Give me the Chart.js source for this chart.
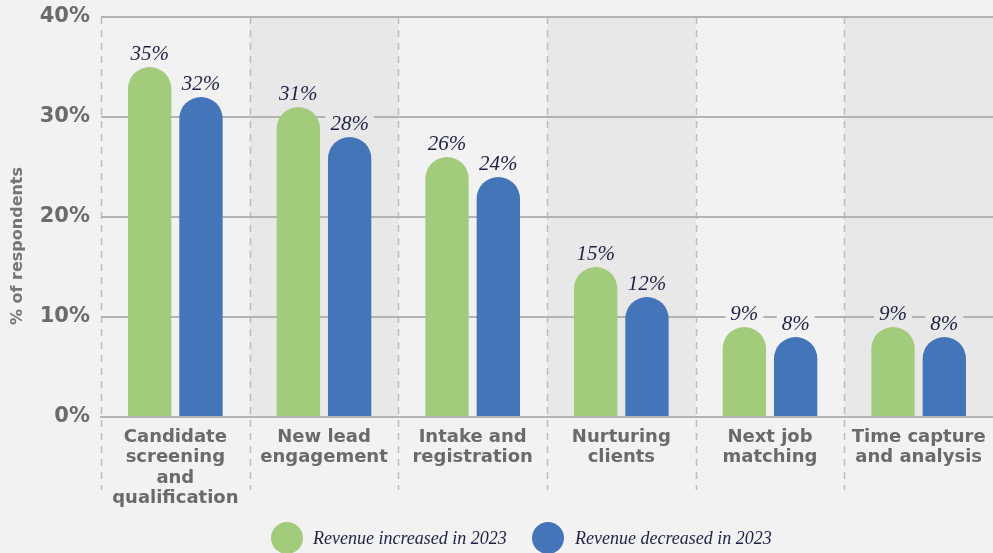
<!DOCTYPE html>
<html>
<head>
<meta charset="utf-8">
<script src="https://cdn.jsdelivr.net/npm/chart.js@4.4.1/dist/chart.umd.min.js"></script>
<style>
  html, body { margin: 0; padding: 0; background: #f2f2f2; }
  #wrap { width: 993px; height: 553px; }
</style>
</head>
<body>
<div id="wrap"><canvas id="aiChart" width="993" height="553"></canvas></div>
<script>
// ---------- Data ----------
const categories = [
  ['Candidate', 'screening', 'and', 'qualification'],
  ['New lead', 'engagement'],
  ['Intake and', 'registration'],
  ['Nurturing', 'clients'],
  ['Next job', 'matching'],
  ['Time capture', 'and analysis']
];
const seriesNames = ['Revenue increased in 2023', 'Revenue decreased in 2023'];
const increased = [35, 31, 26, 15, 9, 9];
const decreased = [32, 28, 24, 12, 8, 8];
const yTicks = [0, 10, 20, 30, 40];
const yTitle = '% of respondents';

const GREEN = '#a2cb7b';
const BLUE = '#4475b9';
const BG = '#f2f2f2';
const SHADE = '#e8e8e8';
const SANS = '"DejaVu Sans", sans-serif';
const LABEL_FONT = 'italic 21px "Liberation Serif", "DejaVu Serif", serif';

// ---------- Background bands + dashed dividers ----------
const bandsPlugin = {
  id: 'bands',
  beforeDraw(chart) {
    const { ctx, chartArea } = chart;
    const x = chart.scales.x;
    const step = x.width / categories.length;
    ctx.save();
    categories.forEach((c, i) => {
      if (i % 2 === 1) {
        ctx.fillStyle = SHADE;
        ctx.fillRect(x.left + i * step, chartArea.top, step, chartArea.bottom - chartArea.top);
      }
    });
    ctx.strokeStyle = '#bdbdbd';
    ctx.lineWidth = 1.5;
    ctx.setLineDash([7, 6]);
    for (let i = 0; i < categories.length; i++) {
      const px = Math.round(x.left + i * step) + 0.5;
      ctx.beginPath();
      ctx.moveTo(px, chartArea.top);
      ctx.lineTo(px, 490);
      ctx.stroke();
    }
    ctx.restore();

    // rotated axis title, sits a bit below the plot middle
    ctx.save();
    ctx.translate(18, 246);
    ctx.rotate(-Math.PI / 2);
    ctx.font = 'bold 16px ' + SANS;
    ctx.fillStyle = '#767676';
    ctx.textAlign = 'center';
    ctx.textBaseline = 'middle';
    ctx.fillText(yTitle, 0, 0);
    ctx.restore();
  }
};

// ---------- Value labels above the bars ----------
const valueLabels = {
  id: 'valueLabels',
  afterDatasetsDraw(chart) {
    const { ctx } = chart;
    ctx.save();
    ctx.font = LABEL_FONT;
    ctx.textAlign = 'center';
    ctx.textBaseline = 'alphabetic';
    chart.data.datasets.forEach((ds, di) => {
      chart.getDatasetMeta(di).data.forEach((bar, i) => {
        const text = ds.data[i] + '%';
        const w = ctx.measureText(text).width;
        const base = bar.y - 7;
        ctx.fillStyle = i % 2 === 1 ? SHADE : BG;
        ctx.fillRect(bar.x - w / 2 - 5, base - 17, w + 10, 21);
        ctx.fillStyle = '#1e2247';
        ctx.fillText(text, bar.x, base);
      });
    });
    ctx.restore();
  }
};

// ---------- Legend drawn under the axis labels ----------
const bottomLegend = {
  id: 'bottomLegend',
  afterDraw(chart) {
    const { ctx } = chart;
    const items = [
      { cx: 287, tx: 313 },
      { cx: 548, tx: 575 }
    ];
    ctx.save();
    ctx.font = 'italic 18px "Liberation Serif", "DejaVu Serif", serif';
    ctx.textBaseline = 'middle';
    ctx.textAlign = 'left';
    chart.data.datasets.forEach((ds, i) => {
      ctx.fillStyle = ds.backgroundColor;
      ctx.beginPath();
      ctx.arc(items[i].cx, 538, 16, 0, Math.PI * 2);
      ctx.fill();
      ctx.fillStyle = '#1e2247';
      ctx.fillText(ds.label, items[i].tx, 539);
    });
    ctx.restore();
  }
};

const ctx = document.getElementById('aiChart').getContext('2d');
const chart = new Chart(ctx, {
  type: 'bar',
  data: {
    labels: categories,
    datasets: [
      {
        label: seriesNames[0],
        data: increased,
        backgroundColor: GREEN,
        borderRadius: { topLeft: 40, topRight: 40 },
        borderSkipped: 'start'
      },
      {
        label: seriesNames[1],
        data: decreased,
        backgroundColor: BLUE,
        borderRadius: { topLeft: 40, topRight: 40 },
        borderSkipped: 'start'
      }
    ]
  },
  options: {
    responsive: false,
    animation: false,
    layout: { padding: { top: 17, right: 0, left: 0, bottom: 0 } },
    datasets: {
      bar: { categoryPercentage: 0.69, barPercentage: 0.845 }
    },
    plugins: {
      legend: { display: false },
      tooltip: { enabled: false }
    },
    scales: {
      x: {
        grid: { display: false, drawTicks: false },
        border: { color: '#b3b3b3', width: 2 },
        ticks: {
          color: '#6a6a6a',
          padding: 10,
          maxRotation: 0,
          autoSkip: false,
          font: { family: SANS, size: 18, weight: 'bold', lineHeight: 1.14 }
        },
        afterFit(scale) {
          scale.height = 136;
          scale.paddingLeft = 0;
          scale.paddingRight = 0;
        }
      },
      y: {
        min: 0,
        max: 40,
        afterBuildTicks(scale) { scale.ticks = yTicks.map(v => ({ value: v })); },
        grid: { color: '#b3b3b3', lineWidth: 2, drawTicks: false },
        border: { display: false },
        ticks: {
          color: '#6a6a6a',
          padding: 11,
          font: { family: SANS, size: 21, weight: 'bold' },
          callback: v => v + '%'
        },
        afterFit(scale) {
          scale.width = 101;
          scale.paddingTop = 0;
          scale.paddingBottom = 0;
        }
      }
    }
  },
  plugins: [bandsPlugin, valueLabels, bottomLegend]
});
</script>
</body>
</html>
